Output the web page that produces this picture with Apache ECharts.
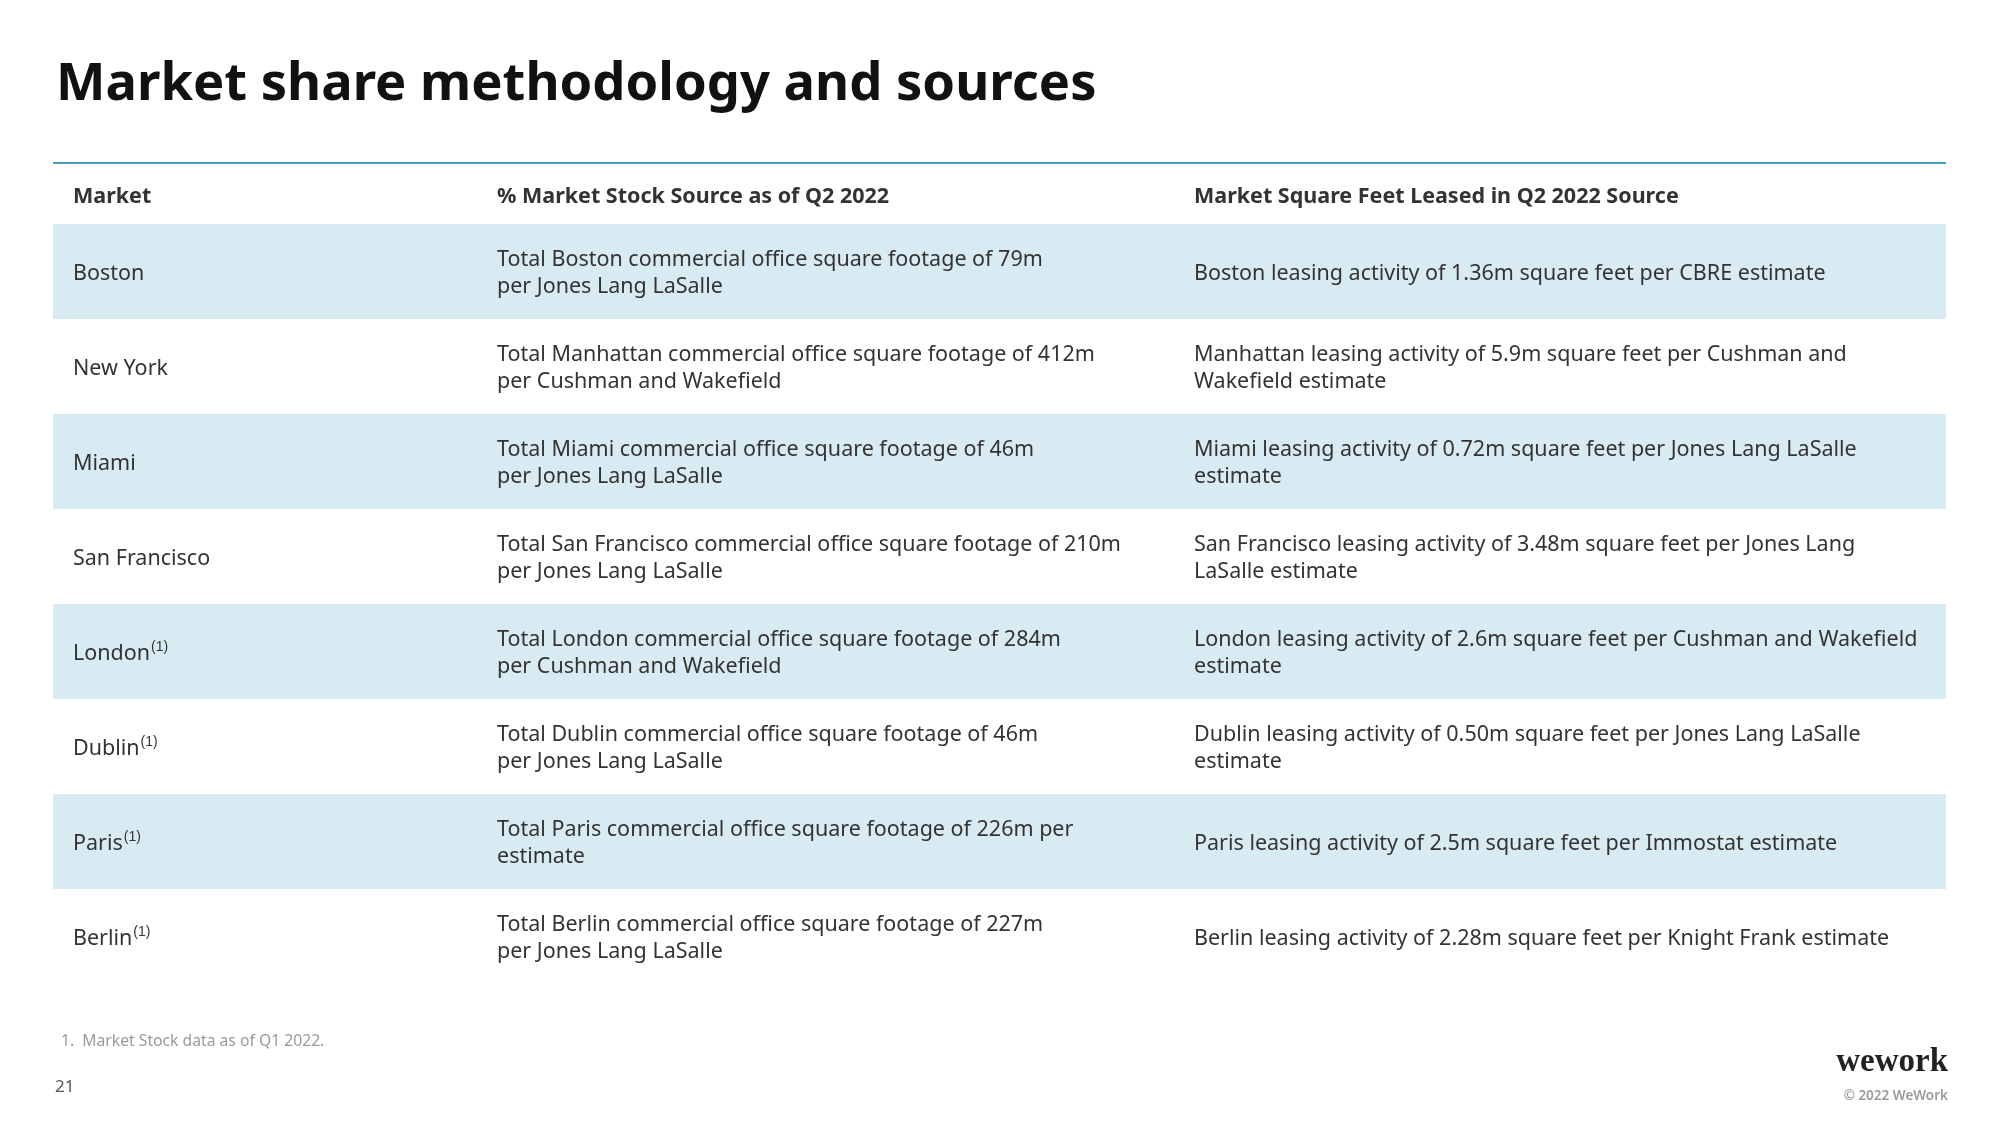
<!DOCTYPE html>
<html>
<head>
<meta charset="utf-8">
<script src="https://cdn.jsdelivr.net/npm/echarts@6/dist/echarts.min.js"></script>
<style>
  html, body { margin: 0; padding: 0; background: #fff; }
  #main { width: 2000px; height: 1125px; }
</style>
</head>
<body>
<div id="main"></div>
<script>
// table content
const headers = ['Market', '% Market Stock Source as of Q2 2022', 'Market Square Feet Leased in Q2 2022 Source'];
const markets = ['Boston', 'New York', 'Miami', 'San Francisco', 'London', 'Dublin', 'Paris', 'Berlin'];
const footnoted = [false, false, false, false, true, true, true, true];
const stockSources = [
  'Total Boston commercial office square footage of 79m\nper Jones Lang LaSalle',
  'Total Manhattan commercial office square footage of 412m\nper Cushman and Wakefield',
  'Total Miami commercial office square footage of 46m\nper Jones Lang LaSalle',
  'Total San Francisco commercial office square footage of 210m\nper Jones Lang LaSalle',
  'Total London commercial office square footage of 284m\nper Cushman and Wakefield',
  'Total Dublin commercial office square footage of 46m\nper Jones Lang LaSalle',
  'Total Paris commercial office square footage of 226m per\nestimate',
  'Total Berlin commercial office square footage of 227m\nper Jones Lang LaSalle'
];
const leasedSources = [
  'Boston leasing activity of 1.36m square feet per CBRE estimate',
  'Manhattan leasing activity of 5.9m square feet per Cushman and\nWakefield estimate',
  'Miami leasing activity of 0.72m square feet per Jones Lang LaSalle\nestimate',
  'San Francisco leasing activity of 3.48m square feet per Jones Lang\nLaSalle estimate',
  'London leasing activity of 2.6m square feet per Cushman and Wakefield\nestimate',
  'Dublin leasing activity of 0.50m square feet per Jones Lang LaSalle\nestimate',
  'Paris leasing activity of 2.5m square feet per Immostat estimate',
  'Berlin leasing activity of 2.28m square feet per Knight Frank estimate'
];
const footnote = '1.  Market Stock data as of Q1 2022.';
const pageNumber = '21';

// layout
const FONT = '"Noto Sans", sans-serif';
const colOffset = [20, 444, 1141]; // px from the left edge of the table
const tableLeft = 53;
const tableRight = 1946;
const bandColor = '#d9ebf2';
const textColor = '#333';

const myChart = echarts.init(document.getElementById('main'));

const renderRow = (params, api) => {
  const cs = params.coordSys;
  const i = api.value(1);
  const center = api.coord([0, i]);
  const rowH = api.size([0, 1])[1];
  const children = [];
  if (i % 2 === 0) {
    children.push({
      type: 'rect',
      shape: { x: cs.x, y: center[1] - rowH / 2, width: cs.width, height: rowH },
      style: { fill: bandColor }
    });
  }
  const cells = [
    markets[i] + (footnoted[i] ? '{sup|(1)}' : ''),
    stockSources[i],
    leasedSources[i]
  ];
  cells.forEach((txt, k) => {
    children.push({
      type: 'text',
      x: cs.x + colOffset[k],
      y: center[1] + 2,
      style: {
        text: txt,
        fontFamily: FONT,
        fontSize: 21.5,
        lineHeight: 27,
        fill: textColor,
        verticalAlign: 'middle',
        align: 'left',
        rich: {
          sup: { fontSize: 14, fill: textColor, verticalAlign: 'top', padding: [0, 0, 12, 1] }
        }
      }
    });
  });
  return { type: 'group', children: children };
};

myChart.setOption({
  animation: false,
  backgroundColor: '#fff',
  title: {
    text: 'Market share methodology and sources',
    left: 51,
    top: 54,
    textStyle: { fontFamily: FONT, fontSize: 52.5, fontWeight: 'bold', color: '#111' }
  },
  grid: { left: tableLeft, right: 2000 - tableRight, top: 224, bottom: 141 },
  xAxis: { type: 'value', min: 0, max: 1, show: false },
  yAxis: { type: 'category', data: markets, inverse: true, show: false },
  series: [
    {
      type: 'custom',
      renderItem: renderRow,
      data: markets.map((m, i) => [0, i]),
      encode: { x: 0, y: 1 }
    }
  ],
  graphic: [
    {
      type: 'line',
      shape: { x1: tableLeft, y1: 163, x2: tableRight, y2: 163 },
      style: { stroke: '#4b9cc0', lineWidth: 2 }
    },
    ...headers.map((h, k) => ({
      type: 'text',
      x: tableLeft + colOffset[k],
      y: 196.5,
      style: {
        text: h,
        fontFamily: FONT,
        fontSize: 21.5,
        fontWeight: 'bold',
        fill: textColor,
        verticalAlign: 'middle'
      }
    })),
    {
      type: 'text',
      x: 61,
      y: 1042,
      style: { text: footnote, fontFamily: FONT, fontSize: 15.7, fill: '#9a9a9a', verticalAlign: 'middle' }
    },
    {
      type: 'text',
      x: 55,
      y: 1087,
      style: { text: pageNumber, fontFamily: FONT, fontSize: 17, fill: '#555', verticalAlign: 'middle' }
    },
    {
      type: 'text',
      x: 1948,
      y: 1062,
      style: {
        text: 'wework',
        fontFamily: '"Liberation Serif", serif',
        fontSize: 33,
        fontWeight: 'bold',
        fill: '#222',
        align: 'right',
        verticalAlign: 'middle'
      }
    },
    {
      type: 'text',
      x: 1948,
      y: 1096,
      style: {
        text: '© 2022 WeWork',
        fontFamily: FONT,
        fontSize: 13.5,
        fontWeight: 600,
        fill: '#9a9a9a',
        align: 'right',
        verticalAlign: 'middle'
      }
    }
  ]
});
</script>
</body>
</html>
